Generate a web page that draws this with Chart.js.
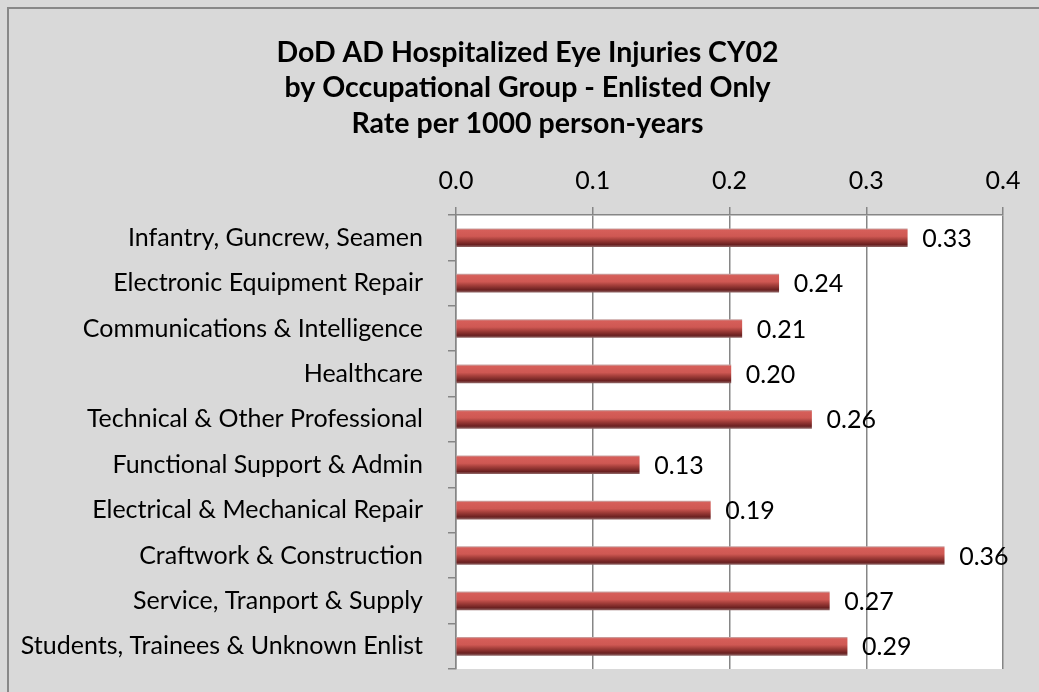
<!DOCTYPE html>
<html>
<head>
<meta charset="utf-8">
<script src="https://cdn.jsdelivr.net/npm/chart.js@4.4.1/dist/chart.umd.min.js"></script>
<style>
  html, body { margin: 0; padding: 0; background: #d9d9d9; overflow: hidden; }
  #frame { position: absolute; left: 7px; top: 7px; width: 1100px; height: 760px; border-top: 2px solid #888; border-left: 2px solid #888; }
  #chart { position: absolute; left: 0; top: 0; }
</style>
</head>
<body>
<div id="frame"></div>
<canvas id="chart" width="1039" height="692"></canvas>
<script>
const categories = [
  'Infantry, Guncrew, Seamen',
  'Electronic Equipment Repair',
  'Communications & Intelligence',
  'Healthcare',
  'Technical & Other Professional',
  'Functional Support & Admin',
  'Electrical & Mechanical Repair',
  'Craftwork & Construction',
  'Service, Tranport & Supply',
  'Students, Trainees & Unknown Enlist'
];
const rates = [0.330, 0.236, 0.209, 0.201, 0.260, 0.134, 0.186, 0.357, 0.273, 0.286];
const titleLines = [
  'DoD AD Hospitalized Eye Injuries CY02',
  'by Occupational Group - Enlisted Only',
  'Rate per 1000 person-years'
];

const FONT = 'Lato, "Open Sans", sans-serif';
const BAR_H = 18;

// white plot area behind bars
const plotBg = {
  id: 'plotBg',
  beforeDraw(chart) {
    const a = chart.chartArea, ctx = chart.ctx;
    ctx.save();
    ctx.fillStyle = '#ffffff';
    ctx.fillRect(a.left, a.top, a.right - a.left, a.bottom - a.top);
    ctx.restore();
  }
};

// the title is centred over the framed box, a bit right of the canvas centre
const titleShift = {
  id: 'titleShift',
  afterLayout(chart) {
    if (chart.titleBlock) chart.titleBlock.left = 52;
  }
};

// value labels at the end of each bar
const valueLabels = {
  id: 'valueLabels',
  afterDatasetsDraw(chart) {
    const ctx = chart.ctx;
    const meta = chart.getDatasetMeta(0);
    ctx.save();
    ctx.font = '25px ' + FONT;
    ctx.fillStyle = '#000';
    ctx.textAlign = 'left';
    ctx.textBaseline = 'middle';
    meta.data.forEach((el, i) => {
      ctx.fillText(rates[i].toFixed(2), el.x + 15, el.y + 1);
    });
    ctx.restore();
  }
};

function barGradient(c) {
  const chart = c.chart;
  const y = chart.scales.y;
  if (!y || c.dataIndex === undefined) return '#c0504d';
  const cy = y.getPixelForValue(c.dataIndex);
  if (!isFinite(cy)) return '#c0504d';
  const g = chart.ctx.createLinearGradient(0, cy - BAR_H / 2, 0, cy + BAR_H / 2);
  g.addColorStop(0, '#c9a3a2');
  g.addColorStop(0.08, '#d65e59');
  g.addColorStop(0.42, '#cf5853');
  g.addColorStop(0.62, '#a33e3a');
  g.addColorStop(0.88, '#6a2020');
  g.addColorStop(1, '#8e6262');
  return g;
}

new Chart(document.getElementById('chart').getContext('2d'), {
  type: 'bar',
  data: {
    labels: categories,
    datasets: [{
      data: rates,
      backgroundColor: barGradient,
      borderWidth: 0,
      barThickness: BAR_H
    }]
  },
  options: {
    indexAxis: 'y',
    responsive: false,
    animation: false,
    layout: { padding: { left: 0, right: 36, top: 0, bottom: 23 } },
    plugins: {
      legend: { display: false },
      tooltip: { enabled: false },
      title: {
        display: true,
        text: titleLines,
        color: '#000',
        font: { family: FONT, size: 28.5, weight: 'bold', lineHeight: 1.245 },
        padding: { top: 35, bottom: 0 }
      }
    },
    scales: {
      x: {
        position: 'top',
        min: 0,
        max: 0.4,
        ticks: {
          stepSize: 0.1,
          color: '#000',
          font: { family: FONT, size: 25 },
          padding: 11,
          callback: v => Number(v).toFixed(1)
        },
        grid: { color: '#868686', lineWidth: 1.5, tickLength: 8 },
        border: { color: '#868686', width: 1.5 },
        afterFit(scale) {
          scale.height = 215 - 141.4;
          scale.paddingLeft = 0;
          scale.paddingRight = 0;
        }
      },
      y: {
        ticks: {
          color: '#000',
          font: { family: FONT, size: 25 },
          padding: 25
        },
        grid: { drawOnChartArea: false, color: '#868686', lineWidth: 1.5, tickLength: 8, offset: true },
        border: { color: '#868686', width: 1.5 },
        afterFit(scale) {
          scale.width = 456;
          scale.paddingTop = 0;
          scale.paddingBottom = 0;
        }
      }
    }
  },
  plugins: [plotBg, titleShift, valueLabels]
});
</script>
</body>
</html>
